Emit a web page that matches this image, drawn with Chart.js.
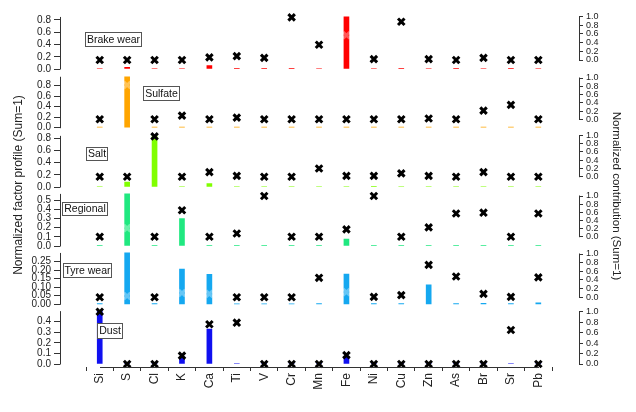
<!DOCTYPE html>
<html><head><meta charset="utf-8">
<script src="https://cdn.jsdelivr.net/npm/chart.js@4/dist/chart.umd.min.js"></script>
<style>html,body{margin:0;padding:0;background:#fff}canvas{display:block}</style>
</head><body>
<canvas id="c" width="636" height="412"></canvas>
<script>
// ---------- data ----------
const elements = ['Si','S','Cl','K','Ca','Ti','V','Cr','Mn','Fe','Ni','Cu','Zn','As','Br','Sr','Pb'];
const factorNames = ['Brake wear','Sulfate','Salt','Regional','Tyre wear','Dust'];

// normalized factor profile (bars, left axes)
const brakeProfile    = [0.008,0.028,0.008,0.008,0.054,0.006,0.006,0.012,0.008,0.85,0.008,0.012,0.008,0.006,0.008,0.006,0.008];
const sulfateProfile  = [0.01,0.97,0.01,0.01,0.01,0.008,0.008,0.008,0.01,0.01,0.01,0.01,0.01,0.01,0.01,0.01,0.01];
const saltProfile     = [0.008,0.08,0.84,0.008,0.055,0.008,0.008,0.008,0.008,0.008,0.01,0.008,0.008,0.008,0.008,0.008,0.008];
const regionalProfile = [0.006,0.57,0.006,0.30,0.006,0.006,0.006,0.006,0.006,0.075,0.006,0.006,0.006,0.006,0.006,0.006,0.006];
const tyreProfile     = [0.004,0.30,0.004,0.206,0.175,0.003,0.003,0.003,0.004,0.177,0.004,0.004,0.113,0.004,0.005,0.004,0.008];
const dustProfile     = [0.50,0.003,0.003,0.063,0.33,0.005,0.002,0.002,0.002,0.07,0.002,0.002,0.002,0.002,0.002,0.005,0.002];

// normalized contribution (markers, right axes)
const brakeContrib    = [0,0,0,0,0.06,0.09,0.05,0.98,0.35,0.57,0.02,0.88,0.02,0,0.05,0,0];
const sulfateContrib  = [0,0.83,0,0.09,0,0.04,0,0,0,0,0,0,0.02,0,0.21,0.35,0];
const saltContrib     = [0,0,0.98,0,0.11,0.02,0,0,0.2,0.02,0.02,0.08,0.02,0,0.11,0,0];
const regionalContrib = [0,0.21,0,0.65,0,0.08,1.0,0,0,0.18,1.0,0,0.23,0.57,0.59,0,0.57];
const tyreContrib     = [0,0.03,0,0.1,0.08,0,0,0,0.45,0.12,0.01,0.05,0.75,0.48,0.08,0.01,0.46];
const dustContrib     = [1.0,0,0,0.16,0.76,0.79,0,0,0,0.17,0,0,0,0,0,0.65,0];

// tick values
const profileTicks  = [0,0.2,0.4,0.6,0.8];
const regionalTicks = [0,0.1,0.2,0.3,0.4,0.5];
const tyreTicks     = [0,0.05,0.10,0.15,0.20,0.25];
const dustTicks     = [0,0.1,0.2,0.3,0.4];
const contribTicks  = [0,0.2,0.4,0.6,0.8,1.0];

const leftTitle  = 'Normalized factor profile (Sum=1)';
const rightTitle = 'Normalized contribution (Sum=1)';

// ---------- layout / style ----------
const FONT = '"Liberation Sans", Arial, sans-serif';
const AREA_TOP = 12, AREA_BOTTOM = 367, NPANEL = 6;
const BAND = (AREA_BOTTOM - AREA_TOP) / NPANEL;
const AREA_LEFT = 60, AREA_RIGHT = 579;
const FIRST_X = 86, LAST_X = 552;
const UNIT = (LAST_X - FIRST_X) / (elements.length - 1);
const XMIN = -(FIRST_X - AREA_LEFT) / UNIT;
const XMAX = (elements.length - 1) + (AREA_RIGHT - LAST_X) / UNIT;

const panels = [
  {profile: brakeProfile,    contrib: brakeContrib,    ticks: profileTicks,  dec: 1, color: '#ff0000', left: [69, 20],      right: [60, 16.5],     box: [85, 32, 56, 14]},
  {profile: sulfateProfile,  contrib: sulfateContrib,  ticks: profileTicks,  dec: 1, color: '#ffa500', left: [127.7, 85.7], right: [119.3, 78],    box: [143, 86, 36, 14]},
  {profile: saltProfile,     contrib: saltContrib,     ticks: profileTicks,  dec: 1, color: '#80ff00', left: [187, 138.3],  right: [176.7, 135.5], box: [86, 147, 21, 13]},
  {profile: regionalProfile, contrib: regionalContrib, ticks: regionalTicks, dec: 1, color: '#20e880', left: [246, 200.3],  right: [236.7, 196],   box: [62, 202, 45, 13]},
  {profile: tyreProfile,     contrib: tyreContrib,     ticks: tyreTicks,     dec: 2, color: '#15a8f0', left: [304.3, 261.5], right: [297.3, 254],  box: [63, 263, 48, 14]},
  {profile: dustProfile,     contrib: dustContrib,     ticks: dustTicks,     dec: 1, color: '#1010f0', left: [364, 321.7],  right: [364, 311.7],   box: [97, 323, 25, 15]}
];

const scales = {
  x: {
    type: 'linear', position: 'bottom', min: XMIN, max: XMAX,
    afterBuildTicks: sc => { sc.ticks = elements.map((e, i) => ({value: i})); },
    afterFit: sc => { sc.height = 35; },
    ticks: { callback: v => elements[v], autoSkip: false, maxRotation: 90, minRotation: 90,
             font: {family: FONT, size: 12}, color: '#222', padding: 2 },
    grid: { display: true, drawOnChartArea: false, drawTicks: true, tickLength: 4, color: '#333' },
    border: { display: false }
  }
};
const datasets = [];

// is the contribution marker buried inside its panel's bar?
function buried(chart, i, j) {
  const p = panels[i];
  const L = chart.scales['yL' + i], R = chart.scales['yR' + i];
  if (!L || !R) return false;
  const barTop = L.getPixelForValue(p.profile[j]);
  const mark = R.getPixelForValue(p.contrib[j]);
  return (mark - barTop) > 3 && mark < L.getPixelForValue(0);
}

panels.forEach((p, i) => {
  const T = AREA_TOP + i * BAND, B = T + BAND;
  const tv = p.ticks[p.ticks.length - 1];
  const s = (p.left[0] - p.left[1]) / tv;
  scales['yL' + i] = {
    type: 'linear', position: 'left', stack: 'L', stackWeight: 1, weight: NPANEL - i,
    min: -(B - p.left[0]) / s, max: (p.left[0] - T) / s,
    afterBuildTicks: sc => { sc.ticks = p.ticks.map(v => ({value: v})); },
    afterFit: sc => { sc.width = AREA_LEFT - 30; },
    ticks: { callback: v => Number(v).toFixed(p.dec), autoSkip: false, font: {family: FONT, size: 10}, color: '#222', padding: 3 },
    grid: { display: true, drawOnChartArea: false, drawTicks: true, tickLength: 6, color: '#333' },
    border: { display: false }
  };
  const rs = p.right[0] - p.right[1];
  scales['yR' + i] = {
    type: 'linear', position: 'right', stack: 'R', stackWeight: 1, weight: i,
    min: -(B - p.right[0]) / rs, max: (p.right[0] - T) / rs,
    afterBuildTicks: sc => { sc.ticks = contribTicks.map(v => ({value: v})); },
    afterFit: sc => { sc.width = 30; },
    ticks: { callback: v => Number(v).toFixed(1), autoSkip: false, font: {family: FONT, size: 9}, color: '#222', padding: 3 },
    grid: { display: true, drawOnChartArea: false, drawTicks: true, tickLength: 4, color: '#333' },
    border: { display: false }
  };
  datasets.push({
    type: 'bar', label: factorNames[i] + ' profile',
    data: p.profile.map((v, j) => ({x: j, y: v})),
    xAxisID: 'x', yAxisID: 'yL' + i,
    backgroundColor: p.color, borderWidth: 0, barThickness: 5, grouped: false, order: 1
  });
  datasets.push({
    type: 'scatter', label: factorNames[i] + ' contribution',
    data: p.contrib.map((v, j) => ({x: j, y: v})),
    xAxisID: 'x', yAxisID: 'yR' + i,
    pointStyle: 'crossRot', pointRadius: 4.6, pointBorderWidth: 3,
    borderColor: c => buried(c.chart, i, c.dataIndex) ? 'rgba(255,255,255,0.35)' : '#000',
    backgroundColor: '#000', showLine: false, order: 0, clip: false
  });
});

const decor = {
  id: 'decor',
  afterDraw(chart) {
    const ctx = chart.ctx, ca = chart.chartArea;
    ctx.save();
    ctx.strokeStyle = '#333'; ctx.lineWidth = 1;
    const xs = chart.scales.x, yb = Math.round(ca.bottom) + 0.5;
    ctx.beginPath();
    ctx.moveTo(Math.round(xs.getPixelForValue(0)), yb);
    ctx.lineTo(Math.round(xs.getPixelForValue(elements.length - 1)) + 1, yb);
    ctx.stroke();
    panels.forEach((p, i) => {
      const L = chart.scales['yL' + i], R = chart.scales['yR' + i];
      const top = Math.max(...p.profile);
      ctx.beginPath();
      ctx.moveTo(Math.round(ca.left) + 0.5, L.getPixelForValue(0) + 0.5);
      ctx.lineTo(Math.round(ca.left) + 0.5, L.getPixelForValue(top));
      ctx.stroke();
      ctx.beginPath();
      ctx.moveTo(Math.round(ca.right) + 0.5, R.getPixelForValue(0) + 0.5);
      ctx.lineTo(Math.round(ca.right) + 0.5, R.getPixelForValue(1) - 0.5);
      ctx.stroke();
      const [bx, by, bw, bh] = p.box;
      ctx.fillStyle = '#fff';
      ctx.fillRect(bx, by, bw, bh);
      ctx.strokeStyle = '#555';
      ctx.strokeRect(bx + 0.5, by + 0.5, bw, bh);
      ctx.strokeStyle = '#333';
      ctx.fillStyle = '#111';
      ctx.font = '10.5px ' + FONT;
      ctx.textAlign = 'center'; ctx.textBaseline = 'middle';
      ctx.fillText(factorNames[i], bx + bw / 2 + 0.5, by + bh / 2 + 1);
    });
    ctx.fillStyle = '#222';
    ctx.font = '12px ' + FONT;
    ctx.textAlign = 'center'; ctx.textBaseline = 'middle';
    ctx.save(); ctx.translate(19, 185); ctx.rotate(-Math.PI / 2); ctx.fillText(leftTitle, 0, 0); ctx.restore();
    ctx.font = '11.5px ' + FONT;
    ctx.save(); ctx.translate(616, 196); ctx.rotate(Math.PI / 2); ctx.fillText(rightTitle, 0, 0); ctx.restore();
    ctx.restore();
  }
};

new Chart(document.getElementById('c'), {
  type: 'bar',
  data: { datasets },
  options: {
    responsive: false, animation: false, devicePixelRatio: 1, events: [],
    layout: { autoPadding: false, padding: { left: 30, right: 636 - AREA_RIGHT - 30, top: AREA_TOP, bottom: 412 - AREA_BOTTOM - 35 } },
    plugins: { legend: { display: false }, tooltip: { enabled: false } },
    scales
  },
  plugins: [decor]
});
</script>
</body></html>
